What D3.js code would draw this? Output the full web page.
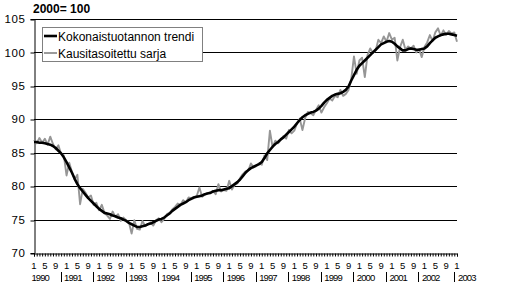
<!DOCTYPE html>
<html><head><meta charset="utf-8">
<script src="https://cdn.jsdelivr.net/npm/d3@7"></script>
<style>body{margin:0;background:#fff}svg{display:block;font-family:"Liberation Sans",Arial,sans-serif}</style>
</head><body><svg id="c" width="505" height="290"></svg>
<script>
const title = "2000= 100";
const seriesNames = ["Kokonaistuotannon trendi", "Kausitasoitettu sarja"];
const years = ["1990","1991","1992","1993","1994","1995","1996","1997","1998","1999","2000","2001","2002","2003"];
const monthLabels = ["1","5","9"];
const yTicks = [70,75,80,85,90,95,100,105];
// monthly, Jan 1990 .. Jan 2003
const trend = [
86.6,86.6,86.5,86.5,86.4,86.3,86.2,86.0,85.7,85.3,84.9,84.3,
83.6,82.8,82.0,81.1,80.3,79.7,79.2,78.7,78.2,77.8,77.4,77.0,
76.6,76.3,76.0,75.9,75.8,75.6,75.5,75.3,75.2,75.0,74.8,74.5,
74.3,74.1,73.9,73.9,74.0,74.1,74.3,74.4,74.6,74.8,75.0,75.1,
75.3,75.6,75.9,76.3,76.6,76.9,77.2,77.4,77.6,77.9,78.1,78.3,
78.4,78.5,78.6,78.8,78.9,79.0,79.2,79.3,79.4,79.4,79.5,79.6,
79.7,80.0,80.3,80.6,81.0,81.5,82.0,82.4,82.7,82.9,83.1,83.3,
83.6,84.2,84.9,85.4,85.9,86.3,86.6,87.0,87.3,87.7,88.1,88.5,
88.9,89.4,89.9,90.3,90.6,90.8,91.0,91.1,91.3,91.6,92.0,92.5,
92.9,93.2,93.5,93.7,93.8,93.9,94.1,94.4,94.9,95.8,96.6,97.4,
98.0,98.4,98.8,99.2,99.6,100.0,100.4,100.8,101.2,101.4,101.6,101.7,
101.6,101.3,100.9,100.6,100.3,100.3,100.5,100.6,100.5,100.4,100.4,100.5,
100.6,100.9,101.4,101.8,102.2,102.4,102.6,102.7,102.8,102.8,102.7,102.6,
102.5];
const seasonal = [
86.9,86.4,87.2,86.5,87.1,86.2,87.4,86.3,85.5,86.1,84.8,84.6,
81.6,83.5,82.1,81.0,81.7,77.3,79.6,79.0,78.3,78.6,77.2,77.5,
76.4,77.2,76.0,75.6,75.1,76.2,75.4,75.8,74.8,75.3,74.9,74.6,
72.9,74.9,73.6,73.5,74.8,74.0,74.3,74.6,74.1,74.9,75.2,74.6,
75.1,75.8,76.0,76.5,76.9,77.4,77.2,77.9,77.6,78.3,78.2,78.4,
78.5,79.8,78.4,78.7,79.0,78.9,79.3,78.8,80.3,79.2,79.4,79.3,
80.8,79.5,80.2,80.4,81.2,81.8,82.2,82.3,83.4,82.8,83.0,83.4,
83.2,84.6,83.9,88.3,85.8,86.8,86.4,86.9,87.5,87.1,88.4,87.9,
88.3,89.4,90.1,88.4,90.2,91.1,90.9,90.6,91.4,92.1,91.0,91.8,
92.4,93.1,92.8,93.5,93.3,94.4,93.5,93.8,94.4,96.0,99.4,96.8,
98.8,99.2,96.3,99.6,100.6,99.9,100.3,101.9,101.4,102.4,101.6,102.9,
101.9,102.2,98.8,100.8,101.9,100.4,100.9,100.6,101.0,100.0,100.5,99.3,
100.8,101.5,102.6,101.7,103.0,103.6,102.5,103.3,102.6,103.2,102.8,103.0,
101.6];

const svg = d3.select("#c");
const L = 34, R = 457, T = 19, B = 253;
const x = d3.scaleLinear().domain([0, trend.length - 1]).range([L, R]);
const y = d3.scaleLinear().domain([70, 105]).range([B, T]);

// gridlines
svg.append("g").selectAll("line").data(yTicks.filter(d => d > 70)).join("line")
  .attr("x1", L).attr("x2", R).attr("y1", d => Math.round(y(d)) + 0.5).attr("y2", d => Math.round(y(d)) + 0.5)
  .attr("stroke", "#000").attr("stroke-width", 1);

// y axis
const ya = svg.append("g").attr("transform", `translate(${L + 0.5},0)`)
  .call(d3.axisLeft(y).tickValues(yTicks).tickSize(4).tickPadding(5).tickFormat(d3.format("d")));
ya.select(".domain").attr("stroke", "#000");
ya.selectAll(".tick line").attr("transform", d => `translate(0,${Math.round(y(d)) + 0.5 - y(d)})`);
ya.selectAll("text").attr("font-size", 11.5).attr("font-family", "Liberation Sans, Arial, sans-serif")
  .attr("fill", "#000").attr("letter-spacing", "0.6px");

// x axis with monthly minor ticks
const xa = svg.append("g").attr("transform", `translate(0,${B + 0.5})`)
  .call(d3.axisBottom(x).tickValues(d3.range(trend.length)).tickSize(3).tickFormat(""));
xa.select(".domain").attr("stroke", "#000");
xa.selectAll(".tick line").attr("stroke", "#000");

// month labels
const monthIdx = d3.range(trend.length).filter(i => [0, 4, 8].includes(i % 12));
svg.append("g").selectAll("text").data(monthIdx).join("text")
  .attr("x", d => x(d)).attr("y", 268.5).attr("text-anchor", "middle")
  .attr("font-size", 9.5).text(d => monthLabels[(d % 12) / 4]);

// year labels and separators
const yearG = svg.append("g");
years.forEach((yr, k) => {
  const start = k * 12;
  if (k < years.length - 1) {
    yearG.append("text").attr("x", x(start + 2.3)).attr("y", 280.5)
      .attr("text-anchor", "middle").attr("font-size", 9.5).attr("letter-spacing", "-0.9px").text(yr);
  } else {
    yearG.append("text").attr("x", x(start) + 1).attr("y", 280.5)
      .attr("text-anchor", "start").attr("font-size", 9.5).attr("letter-spacing", "-0.9px").text(yr);
  }
  if (k > 0) {
    const sx = k < years.length - 1 ? Math.round(x(start - 2.2)) + 0.5 : Math.round(x(start) - 3) + 0.5;
    yearG.append("line").attr("x1", sx).attr("x2", sx).attr("y1", 272).attr("y2", 282)
      .attr("stroke", "#000").attr("stroke-width", 1);
  }
});

// lines
const line = d3.line().x((d, i) => x(i)).y(d => y(d));
svg.append("path").datum(seasonal).attr("d", line).attr("fill", "none")
  .attr("stroke", "#969696").attr("stroke-width", 1.9).attr("stroke-linejoin", "round");
svg.append("path").datum(trend).attr("d", line).attr("fill", "none")
  .attr("stroke", "#000").attr("stroke-width", 2.6).attr("stroke-linejoin", "round");

// legend
const lg = svg.append("g");
lg.append("rect").attr("x", 42.5).attr("y", 27.5).attr("width", 160).attr("height", 34)
  .attr("fill", "#fff").attr("stroke", "#808080");
const lcol = ["#000", "#969696"];
const lw = [2.6, 1.9];
seriesNames.forEach((n, i) => {
  const cy = 36 + i * 17;
  lg.append("line").attr("x1", 44).attr("x2", 57).attr("y1", cy).attr("y2", cy)
    .attr("stroke", lcol[i]).attr("stroke-width", lw[i]);
  lg.append("text").attr("x", 58).attr("y", cy + 4.5).attr("font-size", 12).text(n);
});

// title
svg.append("text").attr("x", 33).attr("y", 13).attr("font-size", 12).attr("font-weight", "bold").text(title);
</script></body></html>
